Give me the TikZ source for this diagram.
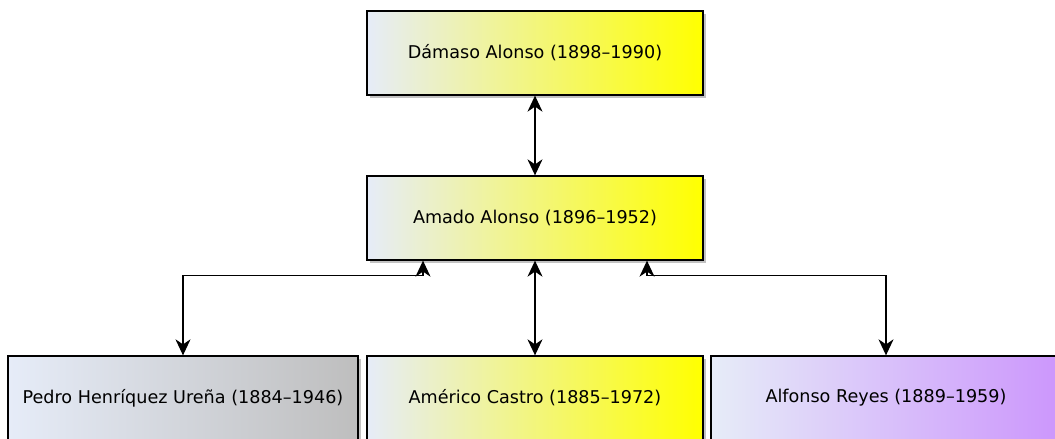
\documentclass[tikz,border=0pt]{standalone}
\usepackage{fontspec}
\setmainfont{DejaVu Sans}
\usetikzlibrary{arrows.meta,shadows}
\definecolor{startc}{RGB}{230,236,248}
\definecolor{yellowc}{RGB}{255,255,0}
\definecolor{grayc}{RGB}{190,190,190}
\definecolor{purplec}{RGB}{204,150,252}
\tikzset{
  person/.style={draw=black, line width=1.3pt, minimum width=336pt, minimum height=84pt,
    inner sep=0pt, left color=startc, font=\fontsize{17.6}{21}\selectfont,
    drop shadow={shadow xshift=2.5pt, shadow yshift=-2.5pt, opacity=0.4, fill=black!60}},
  wide/.style={minimum width=350pt},
  link/.style={line width=1.4pt, {Stealth[length=16pt,width=15pt,inset=5pt]}-{Stealth[length=16pt,width=15pt,inset=5pt]}}
}
\begin{document}
\begin{tikzpicture}[x=1pt,y=-1pt]
\useasboundingbox (0,0) rectangle (1055,439);
\node[person, right color=yellowc] (dam) at (535,53) {Dámaso Alonso (1898–1990)};
\node[person, right color=yellowc] (ama) at (535,218) {Amado Alonso (1896–1952)};
\node[person, wide, right color=grayc] (ped) at (183,398) {Pedro Henríquez Ureña (1884–1946)};
\node[person, right color=yellowc] (ame) at (535,398) {Américo Castro (1885–1972)};
\node[person, wide, right color=purplec] (alf) at (886,398) {Alfonso Reyes (1889–1959)};
\draw[link] (dam.south) -- (ama.north);
\draw[link] (ama.south) -- (ame.north);
\draw[link] ([xshift=-112pt]ama.south) -- ++(0,15) -| (ped.north);
\draw[link] ([xshift=112pt]ama.south) -- ++(0,15) -| (alf.north);
\end{tikzpicture}
\end{document}
